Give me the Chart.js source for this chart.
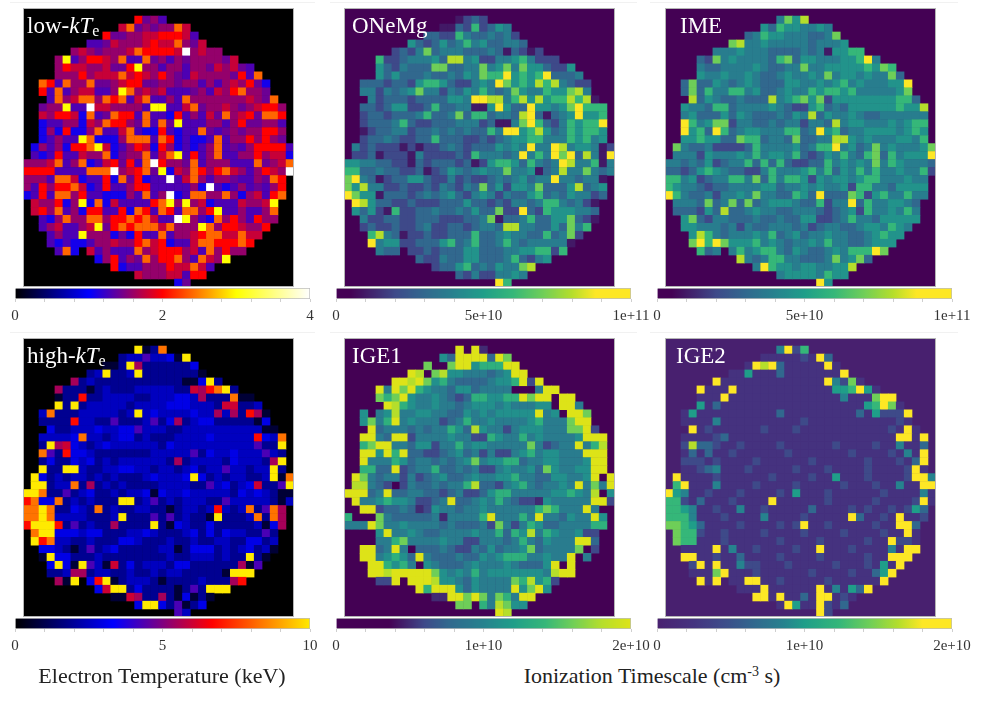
<!DOCTYPE html>
<html><head><meta charset="utf-8">
<script src="https://cdn.jsdelivr.net/npm/chart.js@4"></script>
<style>
html,body{margin:0;padding:0;background:#fff;width:981px;height:703px;overflow:hidden;font-family:"Liberation Serif",serif}
canvas{position:absolute;display:block}
.heat{outline:1px solid #b5b5b5;outline-offset:-1px;filter:blur(.4px)}
.lab{position:absolute;color:#fff;font-size:23px;line-height:26px;white-space:nowrap}
.lab sub{font-size:16px;line-height:0;vertical-align:-3px}
.title{position:absolute;color:#222;font-size:22px;line-height:24px;white-space:nowrap;transform:translateX(-50%)}
.title sup{font-size:14px;line-height:0;vertical-align:7px}
.rule{position:absolute;height:1px;background:#f1f1f1}
</style></head><body>
<script>
// first occupied column of image rows 1..34 (row 0 is blank, 34 columns x 35 rows)
const rowStart=[14,12,10,8,6,4,4,4,2,2,3,2,2,2,2,2,1,1,0,0,0,0,0,1,1,2,2,3,3,4,9,11,14,19];

const lowKTLevels={b:1.08,n:1.3,p:1.42,m:1.58,c:1.78,r:2.0,o:2.4,y:3.0,w:4.0};
const lowKT=["rpmn","copmpmmoc","rppmmccrrrcn","nnpcmmmcrccompc","mcmpmmmcorrrrcwmcmm","mynmrrcmonnopmnmpmmmmpc","mrccmmcpprymmnmmnmmpcmcpn","mmmrmcccocrcmrmpncmmmmprno","ornommoppmcrrppmmpmmnmnmcmrpb","rnonmccnnmyomcmcnnnpmncmrommp","nomcoomoronconnmnommmmmmmcmpo","pmmynnwccmmmmnyynncopmmcmpmcrrm","cmrrcbonporrnonnbrnmncpomcrpoor","bnnmmbcmorrmponopynnnmmnmrppmmn","bmbrbbmonnconbbrnbnnopnpmpmmrrm","bnmnnyobbbmooonorbnbbnonmmrmrmp","bmnmbrroycbnmrcbrmbnbnmonpnmrrrrn","nbnrnncmmobpmmoncoynrnmonnmmrmccb","mmmconmobncrprnowrmmponmmmnnnopmco","rrrrnnnnooowmcropybcmormrocmnmrcmw","mmmnoocbnnrboprbnnwncomnmmpnnmpor","mnrmrrocbnrnnmrrnnnnnmbwnbnmnpnmr","bnrnoomrnnbbbmnonmwbnoommombmcnro","cmmrbmybobcnnnnroymymcbnnncmmcy","crmonmbrrnnrbornornoomrynnmnnmo","nbmommoomrrorocnnwymnbomrmnrmm","nmcnnmcyprorooocommmyomrrcmmr","nmnnymmmbpbrnnonmmcrooccocc","nbnbbnmmcmmrocrbnncoorrror","nob.cnmnnnomcrrrmcnomrmm","bmrnmpomrromnocmy","rbnnmmmrccocn","cmmmccnrr","bp"];

const highKTLevels={k:0.7,d:1.9,b:2.5,B:3.0,n:4.3,m:5.5,c:6.0,r:6.8,o:8.3,y:10};
const highKT=["ykdo","dbbnbbBky","kkdymddddddB","dbyddbydddddddk","mdbdddddddddddkkByd","mdddkdbdddbbbbbddcmroyd","kddrddbbbbddbbbBBbmdddokk","ydydbbbbbdbbbbBBBbbbdccddb","bodddbbbbbdbybBbbbbBbbmbmdrmk","ddddrbbddndddbndBmdbBBdddddkB","BddbbbBbbBBnbbbddbbbbbbbbbbkk","bbbbBobbdbBBdbdddbbbbBbbbbbrBbo","dymcBbdbBbbbbbbdBbbbbbbbbbbnddy","ondrBBbdddddddbbbbbndBbbBbbbnbd","dBddBbBdbdbbbbbbdmdbbbbdBbbbdmy","yddyybddbbBBbbdbbdbBdbbnbbdbbyd","yBdbdbbdbdbdddbBbbbByBdbdbbddbyko","yydbbodmdbdbddddbbbbddnbBdbBcddny","yyoddndbBddbdbbBkBbbBbbbbbdBbBbdkk","roBBodbdbdddyydbndbdbbbddnbbbbbdkb","ooyoddBbdodbddbbddkdbbdbrbdbodnom","ooyobbbbdddbydddndndbddkydddbodom","ryyyrdndbddmddddydkBbddBdddddbkBm","oyyBBBbBBdddbbBbdddbBdBdBbbddnd","yrobbddbdddBBbdddbddbddbbddBBdb","BBbdkdndbBdddddbbkdBBBdbdbBdbk","kyBBdddbddddddddbddbbbdbddydk","ByBkynbkcdBdbbbdBBddddddmkn","ddbmmdbbddbddbdbbdddddkyyy","mky.Brykdbbbdkddddbdddmr","BcyydBddddkdndyyy","kkcmddmdkBkdk","ByyBdnkdB","nb"];

const oneLevels={0:1e10,1:2e10,2:3e10,3:3.8e10,4:4.6e10,5:6e10,6:7e10,7:8e10,8:9.5e10};
const oNeMg=["0121","002151243","221153223231","421242353422332","1213623332223202101","51123334277341133453111","4213222662233634636442114","42422232232436558454582223","22212214554211343864547573211","33132346331324353236433544673","31222122224438877357474557570","2212441125223300484228443468555","1221222352236255233278202348445","1222352112223331200368521354558","0122331223232322538845742354554","1223211225222112123445533354534","312111010112321222434383387344301","112011103111121533323835386827308","4433221102122212014554253238733503","5522322112012432343363340237336323","683201224421131211232342338332330","647331121121321326241443622247234","864402221232342134313224523243312","8742211211122242212133235532310","4241051122322324226118215444332","311221122211122360223522446210","12112112311221233277332242635","573201121122252234332252361","83441122245235223532333330","322.11212224422233445515","21132244222352134","1224523243367","213113343","85"];
const ime=["3647","425443343","235443332236","673343333323334","3334333222232304455","21634333325624433344583","3223333432233633444445465","43343343223433436344343362","26224323432224433434534333448","26253355342234335455453333346","72432232227345646144444444552","4332552333343211452324444445447","3422242432223243724334322333333","8534661332232331332734433343455","8452852344333552384523344443454","4454422655233262233774343334435","632231111253333423558342363433346","333143334353443521243532562534448","3323241233525252112253434363543332","2212454322113533345352435353343351","553412335536253554143443455333433","543321223333442334343341553324444","853223133436332254282226514533533","3332623626234443225133825334432","2221427223433223332123415334353","462133222322322441123533244444","44333231322333231233223443543","475323334352342334332234544","68586444534323343533223444","523.35345532432234355586","73235533222363462","3854434433447","344443544","84"];

const ige1Levels={0:5e9,1:6e9,2:7.6e9,3:9.4e9,4:1.1e10,5:1.36e10,6:1.6e10,7:1.8e10,Y:2e10};
const ige1=["Y.Y0","42YYYY2Y6","6..6YY4555YY","Y7.6744333234YY","YY7Y645322223445Y1Y","Y3Y6Y543324423333...3YY","656Y43343212554455Y6YY.YY",".Y75433433234443433344.YY3","4.34733443322434344444Y34.YY6","4635Y3433312353343333453336YY","Y23332323354274331344433366Y1","YY32YY1333343311543353433334YYY","56YY33244133534433333631233Y357","YY4Y5Y2211234231311345344333YYY","Y3335423323234634455233443334YY","5522Y123352232311343342643344YY","Y63233131234223433445332244334Y.Y","77321.1322323357221345323343Y363Y","YYY23Y22332212311245533333445437.4",".Y33454431123Y22343532110433333YY1","..YY12232014332334333333565333Y3.","5...63222223033335Y33353Y332433Y4","333Y63343333232223163135422333355","...4Y33432233334335254735433411","...3356333343311333235324333YY2","YY23Y3.222321132423346233336.1","YY34542Y322232243455533433Y.3","YY5453.4322234333432224Y.Y.","YY7YYYYY6434353444444437YY","11Y.YYY7443243333657451","Y5YYY4243333Y46Y4","00YY6Y63653YY","66.537644","Y7"];

const ige2Levels={0:2.4e9,1:4.4e9,2:6.6e9,3:8.6e9,4:1e10,5:1.24e10,6:1.44e10,7:1.64e10,Y:2e10};
const ige2=["3Y15","0000010Y2","0Y7Y200000Y0","00400020000000Y","Y0000000000000Y3160","Y000Y000000000000445Y40","000Y0000000000000030006YY","40200000000000000000045Y60","0400000000002000000000204111Y","00003000000000010000000000010","Y01000000100010000000000010Y0","000012000000000000000000000YY0Y","1722100100001000000100001003002","020200100000010000000100001030Y","111010000100000010000001000102Y","00123000100000100010000100001Y0","Y00001000000100001004000100001YY3","5Y00030000100001000001000100300YY","Y430010001000010400010000001000030","5510200010000Y000000100000100001Y0","554300100300100000200001010010142","55530001000030000100000Y20010Y001","66542000010000101Y00100000100YY2","65510010000100001000010000100Y0","655000100000010000100000100Y110","0000Y030010000100Y0001000030YY","YY001002000010000100000100YYY","1Y0Y0031100010000010001040Y","0006Y00010000001000010024Y","Y0Y.00YY001000001000000Y","000Y000000Y03042Y","YY0Y0020YY010","0Y400Y102","Y1"];

const lowTicks=["0","2","4"], highTicks=["0","5","10"], e11Ticks=["0","5e+10","1e+11"], e10Ticks=["0","1e+10","2e+10"];

const thermalLow=[[0,'#000000'],[.25,'#0000ff'],[.5,'#ff0000'],[.75,'#ffff00'],[1,'#ffffff']];
const thermalHigh=[[0,'#000000'],[.333,'#0000ff'],[.667,'#ff0000'],[1,'#ffea00']];
const viridisA=[[0,'#440154'],[.05,'#440154'],[.2,'#3e4989'],[.3,'#31688e'],[.4,'#26828e'],[.5,'#1f9e89'],[.6,'#35b779'],[.7,'#6ece58'],[.8,'#b5de2b'],[.88,'#fde725'],[1,'#fde725']];
const viridisB=[[0,'#440154'],[.18,'#440154'],[.3,'#3e4989'],[.38,'#31688e'],[.5,'#26828e'],[.6,'#1f9e89'],[.71,'#35b779'],[.8,'#6ece58'],[.9,'#b5de2b'],[1,'#dde318']];
const viridisC=[[0,'#48206f'],[.12,'#45327f'],[.22,'#3e4a89'],[.33,'#31688e'],[.43,'#26828e'],[.5,'#1f9e89'],[.62,'#35b779'],[.72,'#6ece58'],[.82,'#b5de2b'],[.9,'#fde725'],[1,'#fde725']];

const panels=[
 {name:'low-<i>kT</i><sub>e</sub>',rows:lowKT,lv:lowKTLevels,max:4,map:thermalLow,ticks:lowTicks,hx:23,hy:8,bx:15,by:288,lx:27,ly:13},
 {name:'ONeMg',rows:oNeMg,lv:oneLevels,max:1e11,map:viridisA,ticks:e11Ticks,hx:344,hy:8,bx:336,by:288,lx:352,ly:13},
 {name:'IME',rows:ime,lv:oneLevels,max:1e11,map:viridisA,ticks:e11Ticks,hx:665,hy:8,bx:657,by:288,lx:680,ly:13},
 {name:'high-<i>kT</i><sub>e</sub>',rows:highKT,lv:highKTLevels,max:10,map:thermalHigh,ticks:highTicks,hx:23,hy:338,bx:15,by:618,lx:27,ly:343},
 {name:'IGE1',rows:ige1,lv:ige1Levels,max:2e10,map:viridisB,ticks:e10Ticks,hx:344,hy:338,bx:336,by:618,lx:352,ly:343},
 {name:'IGE2',rows:ige2,lv:ige2Levels,max:2e10,map:viridisC,ticks:e10Ticks,hx:665,hy:338,bx:657,by:618,lx:676,ly:343}
];

function hex(h){return [1,3,5].map(i=>parseInt(h.substr(i,2),16));}
function cmap(stops,t){
  t=Math.max(0,Math.min(1,t));
  for(let i=1;i<stops.length;i++){
    if(t<=stops[i][0]){
      const a=stops[i-1],b=stops[i],f=(t-a[0])/((b[0]-a[0])||1),ca=hex(a[1]),cb=hex(b[1]);
      return 'rgb('+ca.map((c,k)=>Math.round(c+(cb[k]-c)*f)).join(',')+')';
    }
  }
  return stops[stops.length-1][1];
}
function addCanvas(x,y,w,h,cls){
  const c=document.createElement('canvas');
  c.width=w;c.height=h;c.style.left=x+'px';c.style.top=y+'px';c.style.width=w+'px';c.style.height=h+'px';
  if(cls)c.className=cls;
  document.body.appendChild(c);return c;
}
const COLS=34,ROWS=35,HW=271,HH=279,BW=295,BARH=11,AXISH=31;
panels.forEach(p=>{
  const pts=[];
  p.rows.forEach((s,r)=>{
    [...s].forEach((ch,i)=>{
      if(ch==='.')return;
      pts.push({x:rowStart[r]+i+.5,y:r+1.5,v:p.lv[ch]});
    });
  });
  const hc=addCanvas(p.hx,p.hy,HW,HH,'heat');
  hc.style.background=cmap(p.map,0);
  new Chart(hc,{type:'scatter',
    data:{datasets:[{data:pts,pointStyle:'rect',borderWidth:0,
      pointRadius:()=>(HW/COLS)/Math.SQRT2+0.35,
      backgroundColor:c=>cmap(p.map,c.raw.v/p.max)}]},
    options:{responsive:false,animation:false,events:[],layout:{padding:0,autoPadding:false},
      plugins:{legend:{display:false},tooltip:{enabled:false}},
      scales:{x:{type:'linear',min:0,max:COLS,display:false},y:{type:'linear',min:0,max:ROWS,reverse:true,display:false}}}});
  const bc=addCanvas(p.bx-25,p.by,BW+55,BARH+AXISH);
  new Chart(bc,{type:'bar',
    data:{labels:[''],datasets:[{data:[p.max],barPercentage:1,categoryPercentage:1,borderWidth:1,borderColor:'#bdbdbd',
      backgroundColor:c=>{
        const a=c.chart.chartArea; if(!a)return '#888';
        const g=c.chart.ctx.createLinearGradient(a.left,0,a.right,0);
        for(let i=0;i<=100;i++)g.addColorStop(i/100,cmap(p.map,i/100));
        return g;}}]},
    options:{indexAxis:'y',responsive:false,animation:false,events:[],
      layout:{padding:{left:25,right:30,top:0,bottom:0},autoPadding:false},
      plugins:{legend:{display:false},tooltip:{enabled:false}},
      scales:{
        y:{display:false},
        x:{type:'linear',min:0,max:p.max,
          afterFit:s=>{s.height=AXISH;},
          border:{display:false},
          grid:{drawOnChartArea:false,color:'#cfcfcf',tickLength:3,lineWidth:1},
          ticks:{stepSize:p.max/10,autoSkip:false,maxRotation:0,minRotation:0,padding:5,color:'#333',
            font:{family:'Liberation Serif',size:15},
            callback:(v,i)=>i===0?p.ticks[0]:i===5?p.ticks[1]:i===10?p.ticks[2]:''}}}}});
  const l=document.createElement('div');l.className='lab';l.innerHTML=p.name;l.style.left=p.lx+'px';l.style.top=p.ly+'px';
  document.body.appendChild(l);
});
[[10,305,2],[330,307,2],[650,308,2],[10,305,332],[330,307,332],[650,308,332]].forEach(([x,w,y])=>{
  const d=document.createElement('div');d.className='rule';d.style.left=x+'px';d.style.width=w+'px';d.style.top=y+'px';document.body.appendChild(d);
});
[['Electron Temperature (keV)',162],['Ionization Timescale (cm<sup>-3</sup> s)',652]].forEach(([t,x])=>{
  const d=document.createElement('div');d.className='title';d.innerHTML=t;d.style.left=x+'px';d.style.top='664px';document.body.appendChild(d);
});
</script>
</body></html>
